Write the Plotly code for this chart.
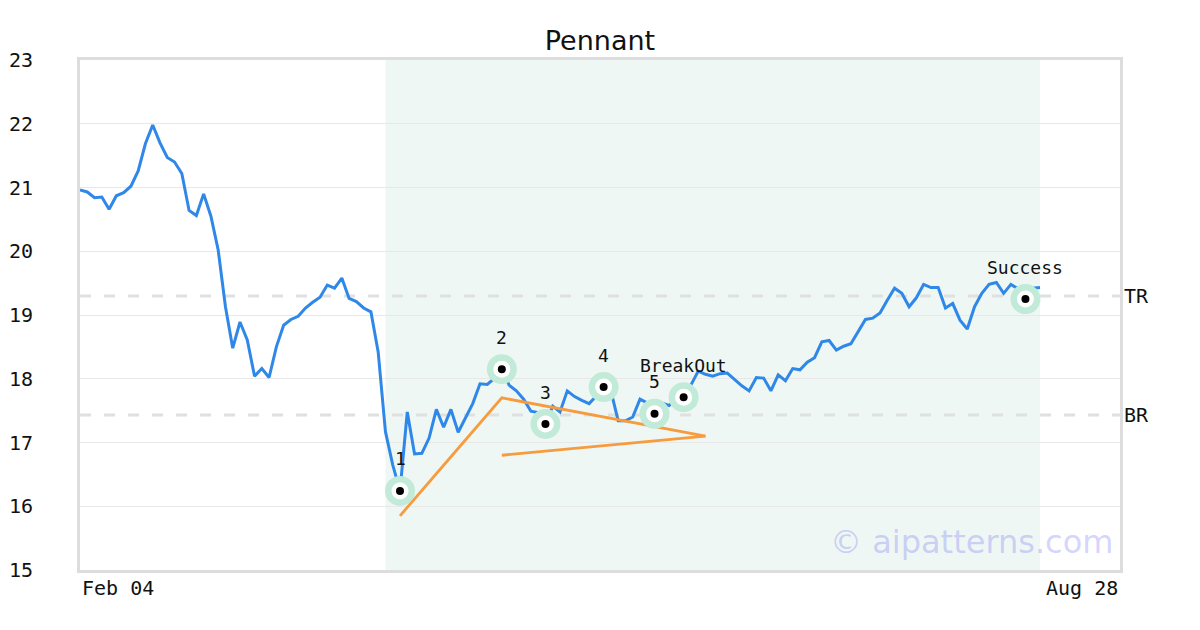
import plotly.graph_objects as go

# ---- data ----
price = [20.96, 20.93, 20.84, 20.85, 20.66, 20.87, 20.92, 21.02, 21.26, 21.69,
         21.98, 21.70, 21.47, 21.40, 21.22, 20.64, 20.56, 20.90, 20.55, 20.02,
         19.13, 18.48, 18.89, 18.61, 18.04, 18.16, 18.02, 18.50, 18.84, 18.93,
         18.98, 19.11, 19.20, 19.28, 19.47, 19.42, 19.58, 19.26, 19.21, 19.11,
         19.05, 18.42, 17.17, 16.65, 16.24, 17.48, 16.82, 16.83, 17.07, 17.52,
         17.24, 17.52, 17.16, 17.38, 17.61, 17.92, 17.91, 18.01, 18.15, 17.90,
         17.81, 17.68, 17.49, 17.47, 17.29, 17.57, 17.48, 17.81, 17.72, 17.66,
         17.61, 17.73, 17.87, 17.81, 17.34, 17.34, 17.40, 17.68, 17.62, 17.45,
         17.62, 17.58, 17.68, 17.71, 17.90, 18.12, 18.07, 18.04, 18.08, 18.09,
         17.99, 17.89, 17.81, 18.02, 18.01, 17.81, 18.06, 17.97, 18.16, 18.14,
         18.26, 18.33, 18.58, 18.60, 18.45, 18.51, 18.55, 18.73, 18.93, 18.95,
         19.03, 19.23, 19.42, 19.34, 19.13, 19.27, 19.48, 19.43, 19.43, 19.11,
         19.18, 18.92, 18.78, 19.13, 19.34, 19.48, 19.51, 19.34, 19.48, 19.41,
         19.25, 19.42, 19.43]
days = list(range(len(price)))

x_tick_pos = [0, 143]
x_tick_labels = ["Feb 04", "Aug 28"]

pattern_start = 42
pattern_end = 132

point_idx = [44, 58, 64, 72, 79, 83, 130]
point_val = [16.24, 18.15, 17.29, 17.87, 17.45, 17.71, 19.25]
point_labels = ["1", "2", "3", "4", "5", "BreakOut", "Success"]

upper_line_x = [44, 58, 86]
upper_line_y = [15.85, 17.70, 17.10]
lower_line_x = [58, 86]
lower_line_y = [16.80, 17.10]

levels = [19.30, 17.43]
level_labels = ["TR", "BR"]

MONO = "DejaVu Sans Mono"

fig = go.Figure()

fig.add_shape(type="rect", xref="x", yref="paper", x0=pattern_start, x1=pattern_end,
              y0=0, y1=1, fillcolor="#eef7f3", line_width=0, layer="below")

for lv in levels:
    fig.add_shape(type="line", xref="paper", yref="y", x0=0, x1=1, y0=lv, y1=lv,
                  line=dict(color="#e0e0e0", width=3, dash="11px,13px"), layer="below")

fig.add_trace(go.Scatter(x=days, y=price, mode="lines",
                         line=dict(color="#2f88e8", width=3), hoverinfo="skip"))

fig.add_trace(go.Scatter(x=upper_line_x, y=upper_line_y, mode="lines",
                         line=dict(color="#f69b3e", width=2.8), hoverinfo="skip"))
fig.add_trace(go.Scatter(x=lower_line_x, y=lower_line_y, mode="lines",
                         line=dict(color="#f69b3e", width=2.8), hoverinfo="skip"))

fig.add_trace(go.Scatter(x=point_idx, y=point_val, mode="markers",
                         marker=dict(size=30, color="#c2ead8"), hoverinfo="skip"))
fig.add_trace(go.Scatter(x=point_idx, y=point_val, mode="markers",
                         marker=dict(size=17, color="white"), hoverinfo="skip"))
fig.add_trace(go.Scatter(x=point_idx, y=point_val, mode="markers",
                         marker=dict(size=8, color="black"), hoverinfo="skip"))

annotations = []
for xi, yv, lab in zip(point_idx, point_val, point_labels):
    annotations.append(dict(x=xi, y=yv, xref="x", yref="y", text=lab, showarrow=False,
                            yshift=32, font=dict(family=MONO, size=18, color="#111")))

for lv, lab in zip(levels, level_labels):
    annotations.append(dict(x=1, y=lv, xref="paper", yref="y", text=lab, showarrow=False,
                            xanchor="left", xshift=2, font=dict(family=MONO, size=20, color="#111")))

for pos, lab, anc in zip(x_tick_pos, x_tick_labels, ["left", "right"]):
    annotations.append(dict(x=pos, y=0, xref="x", yref="paper", text=lab, showarrow=False,
                            xanchor=anc, yanchor="top", yshift=-4,
                            font=dict(family=MONO, size=20, color="#111")))

annotations.append(dict(x=1, y=0, xref="paper", yref="paper", text="© aipatterns.com",
                        showarrow=False, xanchor="right", yanchor="middle", xshift=-5, yshift=28,
                        font=dict(family="DejaVu Sans", size=32, color="rgba(110,110,245,0.3)")))

fig.update_layout(
    width=1200, height=630,
    margin=dict(l=72, r=88, t=52, b=68, autoexpand=False),
    paper_bgcolor="white", plot_bgcolor="white",
    showlegend=False,
    title=dict(text="Pennant", x=0.4933, xanchor="center", y=0.949, yanchor="middle",
               font=dict(family="DejaVu Sans", size=27, color="#111")),
    annotations=annotations,
)
fig.update_xaxes(range=[0, 143], showticklabels=False, showgrid=False, zeroline=False,
                 showline=True, mirror=True, linecolor="#dddddd", linewidth=3, ticks="",
                 automargin=False)
fig.update_yaxes(range=[15, 23], dtick=1, tick0=15, showgrid=True, gridcolor="#e8e8e8",
                 gridwidth=1, zeroline=False, showline=True, mirror=True,
                 linecolor="#dddddd", linewidth=3, ticks="", ticklabelstandoff=40,
                 automargin=False,
                 tickfont=dict(family=MONO, size=20, color="#111"))

fig.write_html("out.html")
